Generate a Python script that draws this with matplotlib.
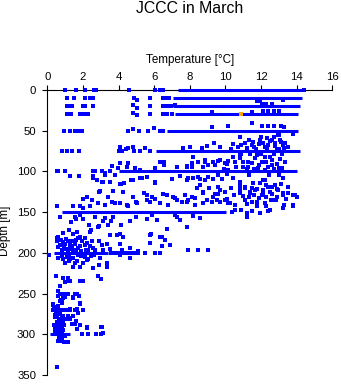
import numpy as np
import matplotlib
matplotlib.use("Agg")
import matplotlib.pyplot as plt

# Datos: temperatura [C] vs profundidad [m]

# Profundidades estandar donde los puntos forman una linea continua
run_depth = [0, 10, 20, 30, 50, 75, 100, 150, 200, 300]
run_t_start = [7.35, 7.05, 7.05, 7.15, 6.7, 6.1, 4.0, 0.8, 0.4, 0.15]
run_t_end = [14.35, 14.3, 14.2, 14.1, 14.1, 14.2, 14.0, 10.05, 3.4, 1.3]

# Puntos sueltos sobre las profundidades estandar (temperatura, profundidad)
pts_superficie = [
    (1.0, 0), (1.6, 0), (2.1, 0), (2.6, 0), (2.75, 0), (4.6, 0), (6.05, 0), (6.3, 0), (6.5, 0), (14.4, 0),
    (1.09, 10), (1.52, 10), (2.12, 10), (2.4, 10), (2.58, 10), (4.88, 10), (5.02, 12.7), (5.77, 10),
    (6.48, 10), (6.65, 10), (6.85, 10), (11.8, 13.5), (11.95, 13.5), (13.25, 12.3),
    (1.09, 20), (1.25, 20), (1.37, 20), (1.99, 20), (2.1, 20), (2.55, 20), (4.79, 19), (5.02, 21.5),
    (5.77, 20), (6.48, 20), (6.7, 20), (6.95, 20), (7.17, 18.5), (12.05, 17), (12.3, 17), (12.6, 17),
    (1.09, 30), (1.33, 30), (1.84, 30), (2.0, 30), (2.15, 30), (2.3, 30), (4.79, 28.7), (5.02, 31),
    (5.77, 30), (6.48, 30), (6.7, 30), (6.98, 29), (9.23, 27.4), (11.48, 26.6), (12.1, 25.8),
    (12.4, 25.8), (12.7, 25.8), (13.0, 25.8), (11.5, 40),
    (0.94, 50), (1.27, 50), (1.56, 50), (1.75, 50), (1.93, 50), (4.55, 50), (4.83, 48), (5.15, 50),
    (5.67, 50), (6.0, 47), (6.34, 50), (6.51, 50), (9.23, 45.8), (10.13, 43.8), (12.05, 43.8),
    (12.4, 44), (12.7, 43.8), (13.1, 44), (13.3, 45), (13.0, 55), (13.8, 54.4),
    (0.81, 75), (1.09, 75), (1.37, 75), (1.8, 75), (4.0, 75), (4.08, 70.4), (4.2, 75), (4.42, 73),
    (4.55, 71.6), (4.83, 70.4), (4.88, 75), (5.2, 75), (5.49, 70.8), (5.77, 75), (7.6, 70.8),
]

# Puntos entre 55 y 100 m
pts_termoclina = [
    (8.01, 70.4), (8.67, 71.6), (8.95, 68.4), (9.38, 65.5), (9.7, 69.6), (10.44, 66.7), (10.82, 57.3),
    (10.9, 67.5), (11.1, 65.5), (11.48, 67.5), (11.57, 63.4), (11.76, 79.8), (11.94, 61.4),
    (12.13, 65.5), (12.31, 59.3), (12.4, 67.5), (12.59, 61.4), (12.78, 65.5), (12.97, 55.3),
    (13.06, 61.4), (13.25, 67.5), (13.34, 65.5), (11.66, 83.9), (12.22, 81.9), (12.5, 81.9),
    (12.59, 86), (8.2, 81.9), (8.85, 86), (9.6, 87.2), (10.17, 87.2), (10.82, 83.1), (11.29, 88),
    (12.04, 88), (13.06, 84.7), (13.34, 88), (8.1, 94), (8.85, 88), (9.42, 92), (9.98, 90),
    (10.54, 88), (11.0, 94), (11.48, 90), (11.85, 96), (12.3, 88), (12.6, 92), (13.0, 96),
    (13.34, 88), (12.2, 98), (10.17, 98), (4.08, 90), (6.33, 88.8), (6.55, 88.8),
    (3.65, 93), (3.99, 96), (4.55, 90), (4.92, 96), (6.46, 88), (7.27, 94), (7.83, 94),
    (8.11, 90), (8.48, 88), (8.76, 94), (9.04, 92), (9.32, 89), (9.7, 86), (10.07, 91),
    (10.44, 82), (10.82, 80), (11.0, 88), (11.29, 94), (3.62, 93.3), (4.5, 95), (5.2, 98),
    (6.05, 96), (6.55, 92), (7.83, 93), (11.7, 72), (12.9, 74), (13.5, 70), (10.3, 72),
    (11.3, 62), (11.9, 66), (12.2, 70), (12.5, 63), (12.8, 69), (13.1, 64), (13.3, 71),
    (11.6, 70), (12.0, 58), (12.7, 58), (11.2, 71), (10.7, 70), (13.0, 72), (12.35, 73),
    (11.4, 78), (12.0, 78), (12.7, 78), (13.2, 79), (10.9, 79), (11.9, 92), (12.9, 91),
    (12.4, 95), (11.6, 97), (13.2, 96), (10.6, 95), (9.9, 97), (12.75, 97), (11.2, 97),
    (0.53, 100), (0.62, 100), (1.0, 100), (1.27, 105.6), (1.8, 105.6), (2.58, 100), (2.7, 100),
    (3.05, 100), (3.24, 102), (3.52, 100), (3.8, 104),
]

# Puntos entre 100 y 150 m
pts_intermedio = [
    (2.58, 108.5), (2.77, 110), (3.14, 112.6), (4.14, 116), (4.83, 110.5), (5.3, 108.5),
    (6.05, 112.6), (6.98, 109), (7.45, 106), (7.92, 108.5), (8.57, 109), (9.04, 106.6),
    (9.79, 109), (10.44, 108.5), (3.24, 104.4), (2.58, 105.6), (3.52, 112.6), (4.08, 115.4),
    (4.7, 111), (5.2, 108.5), (5.58, 106.5), (6.05, 114.6), (3.05, 112.6), (2.92, 125),
    (3.71, 124), (4.27, 125), (3.43, 131.8), (2.21, 131), (2.02, 134), (2.49, 135), (2.86, 139),
    (3.24, 141), (3.62, 137), (4.08, 139), (4.55, 143), (5.02, 139), (5.58, 129), (5.77, 137),
    (6.05, 134), (6.33, 139), (6.7, 129), (6.8, 141), (7.26, 135), (7.73, 129), (7.83, 138),
    (7.17, 133), (0.56, 143), (2.4, 143), (1.46, 143), (1.84, 143), (2.0, 145),
    (2.96, 123.7), (3.8, 139), (4.3, 114.6), (4.46, 141), (4.83, 131), (5.0, 137), (5.43, 127),
    (5.58, 135), (5.86, 132), (6.48, 127.7), (7.07, 131), (7.55, 137), (8.1, 132), (8.3, 141),
    (8.75, 125), (8.95, 135), (9.32, 132), (9.6, 127.7), (9.7, 137), (10.07, 134), (10.26, 139),
    (10.8, 113), (11.1, 119), (11.38, 125), (11.57, 114.6), (11.75, 121), (12.04, 129),
    (12.13, 110.5), (12.3, 116.7), (12.5, 125), (12.7, 135), (12.88, 121), (13.25, 108.5),
    (13.25, 129), (13.5, 119), (13.8, 129), (14.0, 131), (13.8, 142.6), (13.25, 144.3),
    (11.75, 143), (12.3, 142.6), (7.83, 110.5), (8.2, 108.5), (8.48, 106.5), (8.57, 116.7),
    (8.85, 110.5), (9.33, 109.7), (9.6, 118.7), (9.7, 122.8), (9.98, 124.9), (10.8, 118),
    (10.8, 122), (10.8, 126), (11.1, 120.8), (11.39, 127), (11.66, 122.8), (11.94, 114.6),
    (12.13, 127), (12.4, 118.7), (12.2, 110.5), (12.78, 116.7), (12.97, 122.8), (13.25, 127),
    (13.53, 127), (13.9, 129), (7.73, 129), (7.92, 135), (8.29, 133), (8.76, 127), (8.76, 139),
    (9.23, 137), (9.5, 135), (9.98, 135), (10.17, 139), (10.54, 141), (11.1, 135), (11.48, 137),
    (11.76, 137), (12.2, 139), (12.57, 135), (12.85, 135), (13.3, 141), (13.78, 141),
    (11.0, 130), (11.3, 132), (11.6, 129), (11.9, 133), (12.3, 131), (12.6, 128), (12.9, 131),
    (12.1, 123), (11.5, 120), (12.6, 119), (13.1, 116), (13.4, 134), (11.2, 140), (9.4, 128),
    (10.5, 129), (10.3, 120), (9.1, 120), (8.4, 120), (12.45, 104), (11.3, 104), (10.1, 103),
    (13.0, 104), (9.6, 104),
]

# Puntos entre 145 y 200 m
pts_150_200 = [
    (10.35, 150), (10.54, 147), (10.9, 147), (11.2, 151), (11.48, 149), (11.94, 150.6),
    (12.4, 149), (12.5, 147.4), (11.2, 155.6), (8.57, 157.6), (8.2, 154.7), (7.83, 168),
    (0.71, 156.4), (1.31, 161.7), (1.61, 158.8), (1.56, 156), (1.84, 153.5), (1.99, 158.8),
    (2.36, 165.8), (2.45, 172), (2.68, 156), (2.92, 167), (3.11, 160.5), (3.24, 157),
    (3.43, 166), (3.58, 161), (3.71, 156), (4.12, 165.8), (4.08, 177), (4.64, 161), (4.98, 156),
    (5.58, 158.8), (5.86, 153), (5.8, 177), (6.33, 181), (6.7, 171), (7.17, 153.5), (7.45, 159.6),
    (0.62, 181), (0.9, 176), (1.24, 172), (1.46, 177), (1.69, 174), (1.84, 180), (2.4, 174),
    (2.86, 168), (3.52, 178), (4.27, 180), (6.14, 160), (7.27, 156), (5.77, 188.5), (6.42, 191),
    (7.92, 196.5), (8.48, 196.5), (9.04, 196),
    (0.53, 182), (0.53, 186), (0.9, 187), (1.17, 186), (1.3, 185), (1.46, 186), (1.74, 182),
    (1.93, 186), (2.12, 182), (2.49, 186), (3.05, 190), (3.33, 189), (3.9, 178), (4.27, 180),
    (4.08, 189), (4.2, 196), (1.37, 192), (1.7, 194), (1.0, 195), (1.2, 195), (1.4, 195),
    (0.8, 197), (1.6, 197), (2.3, 196), (2.7, 197), (5.77, 178), (6.42, 180), (6.61, 184),
    (6.89, 190.5), (4.64, 194.5), (5.11, 198),
    (0.7, 190), (1.0, 189), (1.25, 190), (1.55, 189), (1.85, 191), (2.1, 190), (2.4, 192),
    (0.6, 193), (0.95, 192), (1.15, 198), (1.45, 198), (1.9, 198), (2.15, 196), (2.55, 194),
    (3.1, 196), (3.5, 195), (0.75, 184), (1.05, 183), (1.6, 184), (2.25, 188), (2.9, 186),
    (3.6, 200), (3.8, 200), (4.0, 200), (4.2, 200), (4.4, 200), (4.6, 200), (4.8, 200),
    (5.0, 200), (5.11, 200), (5.49, 200), (6.05, 200), (6.33, 200), (7.92, 196.5),
]

# Puntos profundos (mas de 200 m)
pts_profundo = [
    (0.11, 202.6), (0.62, 206), (1.0, 213), (1.46, 217), (1.65, 210), (1.84, 217), (2.02, 213),
    (2.21, 209), (2.58, 219), (2.92, 215), (2.3, 207), (3.33, 213), (3.36, 217), (1.46, 206),
    (2.96, 206), (4.08, 203), (4.64, 206), (0.8, 204), (1.2, 203), (1.9, 204), (2.6, 203),
    (0.9, 207), (1.1, 205), (1.3, 208), (1.7, 203), (2.1, 205), (2.45, 204), (1.55, 212),
    (1.2, 210), (0.88, 230.5), (0.49, 229), (1.18, 231), (1.18, 235), (1.27, 235), (1.84, 235), (2.02, 234),
    (2.86, 228), (3.0, 232), (0.71, 241), (0.62, 247), (0.9, 250), (1.18, 250), (1.46, 254),
    (1.65, 250), (1.8, 253), (0.81, 258), (1.84, 263), (1.0, 236), (0.71, 250), (1.09, 250),
    (1.56, 251), (0.62, 253), (0.71, 259), (0.81, 262), (0.9, 256), (1.46, 256), (1.84, 262),
    (0.34, 264), (0.62, 265), (0.3, 263), (0.75, 258), (1.0, 254),
    (0.34, 270), (0.5, 270), (0.65, 270), (0.8, 270), (0.95, 270), (1.1, 270), (1.18, 270),
    (1.3, 270), (1.6, 270), (2.02, 270), (1.27, 269), (1.56, 270), (0.43, 276), (1.18, 278),
    (1.74, 274), (1.65, 269), (1.46, 277), (1.24, 280), (1.0, 281), (1.09, 281), (1.27, 281),
    (1.61, 284), (1.37, 287), (1.56, 287), (1.84, 288), (1.65, 293), (2.25, 292.6), (3.0, 291),
    (2.21, 290.5), (3.05, 290.5), (1.65, 293.5),
    (0.4, 266), (0.6, 268), (0.5, 272), (0.7, 275), (0.9, 277), (0.45, 279), (0.65, 281),
    (0.85, 283), (0.55, 285), (0.75, 287), (0.95, 289), (0.5, 291), (0.7, 293), (0.9, 295),
    (0.6, 297), (0.8, 299), (1.0, 302), (0.65, 304), (0.85, 306), (0.4, 288), (0.45, 296),
    (0.6, 274), (0.8, 280), (0.7, 286), (0.6, 290), (0.85, 292), (0.5, 300), (0.75, 302),
    (0.55, 278), (0.75, 284), (0.5, 288), (0.9, 286), (0.65, 295), (0.45, 293), (0.8, 296),
    (1.93, 300), (2.3, 300), (2.73, 300), (3.0, 300), (3.14, 299),
    (0.62, 308), (0.8, 308), (0.95, 309), (1.1, 309), (1.18, 310), (0.53, 340),
]

# Un unico punto en naranja
naranja_t = [10.87]
naranja_d = [30]

COLOR = "#0000ff"

plt.rcParams["font.family"] = ["Liberation Sans", "DejaVu Sans"]

fig = plt.figure(figsize=(3.41, 3.84), dpi=100)
ax = fig.add_axes([47.3 / 341, 1 - 375 / 384, 285 / 341, 285 / 384])

# Lineas densas en profundidades estandar
for d, t0, t1 in zip(run_depth, run_t_start, run_t_end):
    ax.plot([t0, t1], [d, d], color=COLOR, lw=2.2, solid_capstyle="butt",
            clip_on=False, zorder=3)

todos = pts_superficie + pts_termoclina + pts_intermedio + pts_150_200 + pts_profundo
t = np.array([p[0] for p in todos])
d = np.array([p[1] for p in todos])
ax.plot(t, d, ls="none", marker="s", ms=2.3, mew=0, color=COLOR, clip_on=False, zorder=3)
ax.plot(naranja_t, naranja_d, ls="none", marker="s", ms=2.4, mew=0, color="#ffa500",
        clip_on=False, zorder=4)

ax.set_xlim(0, 16)
ax.set_ylim(350, 0)
ax.set_xticks(np.arange(0, 17, 2))
ax.set_yticks(np.arange(0, 351, 50))

ax.xaxis.tick_top()
for s in ["bottom", "right"]:
    ax.spines[s].set_visible(False)
for s in ["top", "left"]:
    ax.spines[s].set_linewidth(0.8)
ax.tick_params(axis="both", direction="out", length=3.6, width=0.8, labelsize=8.2)
ax.tick_params(axis="x", pad=2.0)
ax.tick_params(axis="y", pad=4.5)

fig.text(190 / 341, 1 - 8.5 / 384, "JCCC in March", ha="center", va="center", fontsize=11.4)
fig.text(190.5 / 341, 1 - 60 / 384, "Temperature [°C]", ha="center", va="center", fontsize=8.4)
fig.text(5.5 / 341, 1 - 231 / 384, "Depth [m]", ha="center", va="center", rotation=90, fontsize=8.4)

fig.savefig("out.png", dpi=100)
